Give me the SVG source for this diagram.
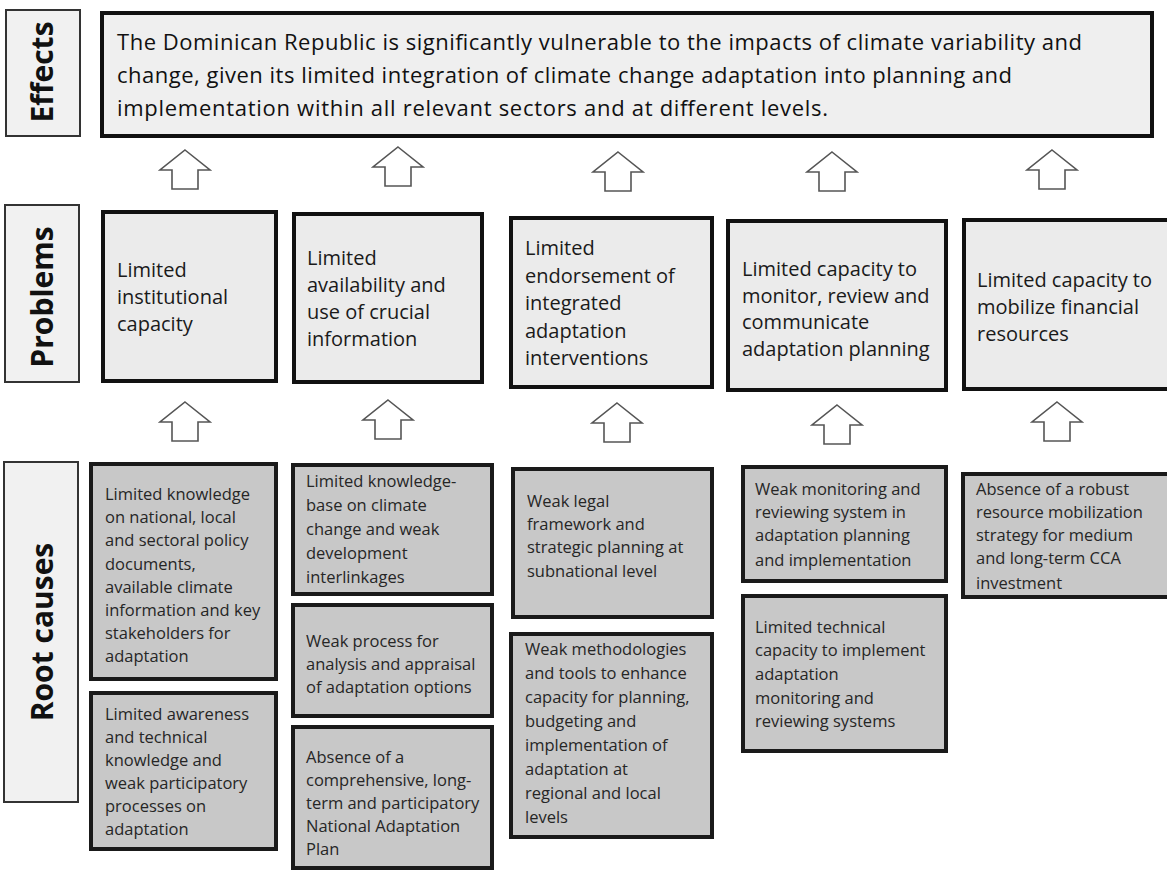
<svg xmlns="http://www.w3.org/2000/svg" width="1167" height="873" viewBox="0 0 1167 873">
<style>
.lab{fill:#f1f1f1;stroke:#333;stroke-width:2}
.labt{font-family:"Open Sans","Noto Sans",sans-serif;font-weight:bold;font-size:30px;fill:#111}
.eff{fill:#efefef;stroke:#111;stroke-width:4}
.efft{font-family:"Open Sans","Noto Sans",sans-serif;font-size:22px;fill:#111}
.prob{fill:#ebebeb;stroke:#111;stroke-width:4}
.probt{font-family:"Open Sans","Noto Sans",sans-serif;font-size:20px;fill:#1a1a1a}
.root{fill:#c8c8c8;stroke:#1a1a1a;stroke-width:4}
.roott{font-family:"Open Sans","Noto Sans",sans-serif;font-size:16.5px;fill:#262626}
.arr{fill:#fff;stroke:#555;stroke-width:1.6;stroke-linejoin:miter}
</style>
<defs>
<path id="up" d="M0,0 L25,20 L13,20 L13,39 L-13,39 L-13,20 L-25,20 Z"/>
</defs>
<rect width="1167" height="873" fill="#fff"/>

<g id="label-effects">
<rect class="lab" x="6" y="10" width="74" height="126"/>
<text class="labt" transform="translate(53,72) rotate(-90)" text-anchor="middle">Effects</text>
</g>
<g id="label-problems">
<rect class="lab" x="5" y="205" width="74" height="177"/>
<text class="labt" transform="translate(53,297) rotate(-90)" text-anchor="middle">Problems</text>
</g>
<g id="label-rootcauses">
<rect class="lab" x="4" y="462" width="74" height="340"/>
<text class="labt" transform="translate(53,632) rotate(-90)" text-anchor="middle">Root causes</text>
</g>

<g id="effects">
<rect class="eff" x="102" y="13" width="1050" height="123"/>
<text class="efft" x="117" y="50" textLength="965" lengthAdjust="spacing">The Dominican Republic is significantly vulnerable to the impacts of climate variability and</text>
<text class="efft" x="117" y="83" textLength="895" lengthAdjust="spacing">change, given its limited integration of climate change adaptation into planning and</text>
<text class="efft" x="117" y="116" textLength="711" lengthAdjust="spacing">implementation within all relevant sectors and at different levels.</text>
</g>

<g id="problem1">
<rect class="prob" x="103" y="212" width="173" height="169"/>
<text class="probt" x="117" y="277">Limited</text>
<text class="probt" x="117" y="304">institutional</text>
<text class="probt" x="117" y="331">capacity</text>
</g>
<g id="problem2">
<rect class="prob" x="294" y="214" width="188" height="168"/>
<text class="probt" x="307" y="265">Limited</text>
<text class="probt" x="307" y="292">availability and</text>
<text class="probt" x="307" y="319">use of crucial</text>
<text class="probt" x="307" y="346">information</text>
</g>
<g id="problem3">
<rect class="prob" x="511" y="218" width="201" height="169"/>
<text class="probt" x="525" y="255">Limited</text>
<text class="probt" x="525" y="283">endorsement of</text>
<text class="probt" x="525" y="310">integrated</text>
<text class="probt" x="525" y="338">adaptation</text>
<text class="probt" x="525" y="365">interventions</text>
</g>
<g id="problem4">
<rect class="prob" x="728" y="221" width="218" height="169"/>
<text class="probt" x="742" y="276">Limited capacity to</text>
<text class="probt" x="742" y="303">monitor, review and</text>
<text class="probt" x="742" y="329">communicate</text>
<text class="probt" x="742" y="356">adaptation planning</text>
</g>
<g id="problem5">
<rect class="prob" x="964" y="220" width="210" height="169"/>
<text class="probt" x="977" y="287">Limited capacity to</text>
<text class="probt" x="977" y="314">mobilize financial</text>
<text class="probt" x="977" y="341">resources</text>
</g>

<g id="root1a">
<rect class="root" x="91" y="464" width="185" height="215"/>
<text class="roott" x="105" y="500">Limited knowledge</text>
<text class="roott" x="105" y="523">on national, local</text>
<text class="roott" x="105" y="546">and sectoral policy</text>
<text class="roott" x="105" y="570">documents,</text>
<text class="roott" x="105" y="593">available climate</text>
<text class="roott" x="105" y="616">information and key</text>
<text class="roott" x="105" y="639">stakeholders for</text>
<text class="roott" x="105" y="662">adaptation</text>
</g>
<g id="root1b">
<rect class="root" x="91" y="693" width="185" height="156"/>
<text class="roott" x="105" y="720">Limited awareness</text>
<text class="roott" x="105" y="743">and technical</text>
<text class="roott" x="105" y="766">knowledge and</text>
<text class="roott" x="105" y="789">weak participatory</text>
<text class="roott" x="105" y="812">processes on</text>
<text class="roott" x="105" y="835">adaptation</text>
</g>

<g id="root2a">
<rect class="root" x="293" y="465" width="199" height="129"/>
<text class="roott" x="306" y="487">Limited knowledge-</text>
<text class="roott" x="306" y="511">base on climate</text>
<text class="roott" x="306" y="535">change and weak</text>
<text class="roott" x="306" y="559">development</text>
<text class="roott" x="306" y="583">interlinkages</text>
</g>
<g id="root2b">
<rect class="root" x="293" y="605" width="199" height="111"/>
<text class="roott" x="306" y="647">Weak process for</text>
<text class="roott" x="306" y="670">analysis and appraisal</text>
<text class="roott" x="306" y="693">of adaptation options</text>
</g>
<g id="root2c">
<rect class="root" x="293" y="727" width="199" height="141"/>
<text class="roott" x="306" y="763">Absence of a</text>
<text class="roott" x="306" y="786">comprehensive, long-</text>
<text class="roott" x="306" y="809">term and participatory</text>
<text class="roott" x="306" y="832">National Adaptation</text>
<text class="roott" x="306" y="855">Plan</text>
</g>

<g id="root3a">
<rect class="root" x="513" y="469" width="199" height="148"/>
<text class="roott" x="527" y="507">Weak legal</text>
<text class="roott" x="527" y="530">framework and</text>
<text class="roott" x="527" y="553">strategic planning at</text>
<text class="roott" x="527" y="577">subnational level</text>
</g>
<g id="root3b">
<rect class="root" x="511" y="634" width="201" height="203"/>
<text class="roott" x="525" y="655">Weak methodologies</text>
<text class="roott" x="525" y="679">and tools to enhance</text>
<text class="roott" x="525" y="703">capacity for planning,</text>
<text class="roott" x="525" y="727">budgeting and</text>
<text class="roott" x="525" y="751">implementation of</text>
<text class="roott" x="525" y="775">adaptation at</text>
<text class="roott" x="525" y="799">regional and local</text>
<text class="roott" x="525" y="823">levels</text>
</g>

<g id="root4a">
<rect class="root" x="743" y="467" width="203" height="114"/>
<text class="roott" x="755" y="495">Weak monitoring and</text>
<text class="roott" x="755" y="518">reviewing system in</text>
<text class="roott" x="755" y="541">adaptation planning</text>
<text class="roott" x="755" y="566">and implementation</text>
</g>
<g id="root4b">
<rect class="root" x="743" y="596" width="203" height="155"/>
<text class="roott" x="755" y="633">Limited technical</text>
<text class="roott" x="755" y="656">capacity to implement</text>
<text class="roott" x="755" y="680">adaptation</text>
<text class="roott" x="755" y="704">monitoring and</text>
<text class="roott" x="755" y="727">reviewing systems</text>
</g>

<g id="root5">
<rect class="root" x="963" y="474" width="210" height="123"/>
<text class="roott" x="976" y="495">Absence of a robust</text>
<text class="roott" x="976" y="518">resource mobilization</text>
<text class="roott" x="976" y="541">strategy for medium</text>
<text class="roott" x="976" y="564">and long-term CCA</text>
<text class="roott" x="976" y="589">investment</text>
</g>

<g id="connectors">
<use href="#up" class="arr" x="185" y="150"/>
<use href="#up" class="arr" x="398" y="147"/>
<use href="#up" class="arr" x="618" y="152"/>
<use href="#up" class="arr" x="832" y="152"/>
<use href="#up" class="arr" x="1052" y="150"/>
<use href="#up" class="arr" x="185" y="402"/>
<use href="#up" class="arr" x="388" y="400"/>
<use href="#up" class="arr" x="617" y="403"/>
<use href="#up" class="arr" x="837" y="405"/>
<use href="#up" class="arr" x="1057" y="402"/>
</g>
</svg>
